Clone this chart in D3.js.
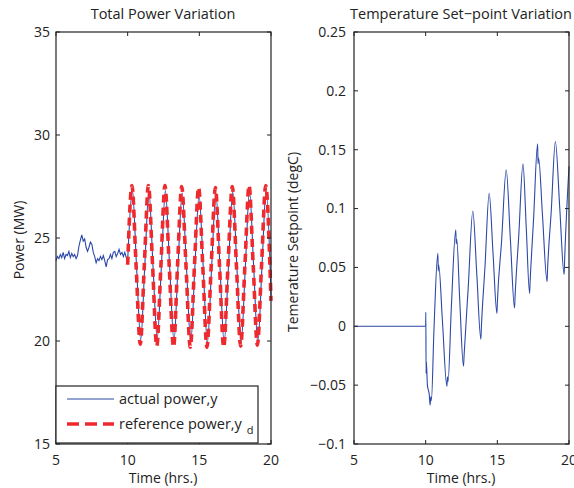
<!DOCTYPE html>
<meta charset="utf-8">
<style>
    body { margin: 0; background: #fff; }
    svg text { font-family: "Open Sans", Arial, sans-serif; fill: #222; }
    .frame { fill: none; stroke: #222; stroke-width: 1.2px; }
    .tick-mark { stroke: #222; stroke-width: 1px; }
</style>
<body>
<svg id="chart" width="574" height="488"></svg>
<script src="https://cdnjs.cloudflare.com/ajax/libs/d3/7.8.5/d3.min.js"></script>
<script>
// --- data ---
// actual power before the test signal starts (hrs, MW)
var preTime = [5.0, 5.1, 5.2, 5.3, 5.4, 5.5, 5.6, 5.7, 5.8, 5.9, 6.0, 6.1, 6.2, 6.3, 6.4, 6.5, 6.6, 6.7, 6.8, 6.9,
    7.0, 7.1, 7.2, 7.3, 7.4, 7.5, 7.6, 7.7, 7.8, 7.9, 8.0, 8.1, 8.2, 8.3, 8.4, 8.5, 8.6, 8.7, 8.8, 8.9,
    9.0, 9.1, 9.2, 9.3, 9.4, 9.5, 9.6, 9.7, 9.8, 9.9];
var prePower = [23.9, 24.1, 24.0, 24.2, 24.05, 24.3, 24.0, 24.2, 24.15, 24.35, 24.05, 24.25, 24.1, 24.2, 24.0, 24.15, 24.6, 24.9, 25.15, 24.85,
    24.95, 24.55, 24.35, 24.55, 24.8, 24.7, 24.3, 24.1, 23.8, 24.0, 23.9, 24.1, 23.95, 24.15, 23.9, 23.6, 23.95, 24.0, 24.2, 24.0,
    24.3, 24.35, 24.1, 24.25, 24.45, 24.2, 24.3, 24.1, 24.3, 24.05];

// reference power: peaks, troughs and mid crossings
var refTime = [10.0, 10.3, 10.59, 10.88, 11.16, 11.45, 11.74, 12.03, 12.32, 12.6, 12.9, 13.2, 13.48, 13.77, 14.07, 14.37, 14.66,
    14.95, 15.24, 15.53, 15.83, 16.12, 16.41, 16.7, 17.0, 17.3, 17.59, 17.88, 18.18, 18.47, 18.76, 19.05, 19.34, 19.63, 20.0];
var refPower = [23.7, 27.55, 23.65, 19.85, 23.65, 27.55, 23.65, 19.75, 23.65, 27.55, 23.65, 19.7, 23.65, 27.5, 23.65, 19.7, 23.65,
    27.45, 23.65, 19.7, 23.65, 27.45, 23.65, 19.7, 23.65, 27.5, 23.65, 19.75, 23.65, 27.55, 23.65, 19.8, 23.65, 27.55, 21.95];

// actual power after 10 hrs
var actTime = [10.0, 10.33, 10.62, 10.91, 11.19, 11.48, 11.77, 12.06, 12.35, 12.63, 12.93, 13.23, 13.51, 13.8, 14.1, 14.4, 14.69,
    14.98, 15.27, 15.56, 15.86, 16.15, 16.44, 16.73, 17.03, 17.33, 17.62, 17.91, 18.21, 18.5, 18.79, 19.08, 19.37, 19.66, 20.0];
var actPower = [23.9, 27.35, 23.6, 20.05, 23.6, 27.3, 23.6, 20.1, 23.6, 27.3, 23.6, 20.0, 23.6, 27.2, 23.6, 19.95, 23.6,
    27.1, 23.6, 19.9, 23.6, 27.2, 23.6, 19.9, 23.6, 27.25, 23.6, 19.85, 23.6, 27.3, 23.6, 19.9, 23.6, 27.35, 22.2];

// temperature set-point (hrs, degC): flat part, then the oscillation
var tempFlatTime = [5, 10];
var tempFlatSet = [0, 0];
var tempTime = [10, 10.01, 10.03, 10.05, 10.12, 10.25, 10.31, 10.36, 10.4, 10.58, 10.85, 10.88, 10.91, 11.165, 11.48, 11.52, 11.56,
    11.79, 12.1, 12.13, 12.17, 12.37, 12.64, 12.68, 12.965, 13.29, 13.57, 13.85, 13.89, 14.14, 14.43, 14.7, 14.97, 15.0,
    15.295, 15.62, 15.91, 16.2, 16.24, 16.495, 16.79, 17.02, 17.25, 17.28, 17.53, 17.81, 17.84, 17.88, 18.14, 18.47, 18.5,
    18.76, 19.05, 19.355, 19.66, 19.7, 20.0];
var tempSet = [0, 0.012, -0.04, -0.03, -0.05, -0.058, -0.067, -0.06, -0.063, -0.0025, 0.062, 0.047, 0.052, 0.0055, -0.051, -0.043, -0.047,
    0.0155, 0.082, 0.07, 0.074, 0.024, -0.034, -0.025, 0.032, 0.098, 0.0435, -0.011, 0.0, 0.051, 0.113, 0.062, 0.011, 0.02,
    0.072, 0.133, 0.074, 0.0155, 0.026, 0.077, 0.138, 0.083, 0.028, 0.036, 0.0915, 0.155, 0.138, 0.143, 0.0965, 0.038, 0.047,
    0.0975, 0.157, 0.1005, 0.044, 0.058, 0.136];

var timeTicks = [5, 10, 15, 20];
var powerTicks = [15, 20, 25, 30, 35];
var tempTicks = [-0.1, -0.05, 0, 0.05, 0.1, 0.15, 0.2, 0.25];
var tempTickLabels = ["\u22120.1", "\u22120.05", "0", "0.05", "0.1", "0.15", "0.2", "0.25"];

var blue = "#2c48a8", red = "#ee2a2f";

var svg = d3.select("#chart");
var top_ = 32, bottom = 444;

function zip(a, b) { return a.map(function (v, i) { return [v, b[i]]; }); }

function drawFrame(g, x, y, yTicks, yLabels, labelGap) {
    var x0 = x.range()[0], x1 = x.range()[1];
    var y0 = y.range()[1], y1 = y.range()[0];
    // ticks inward on all four sides, matlab style
    timeTicks.forEach(function (t) {
        g.append("line").attr("class", "tick-mark")
            .attr("x1", x(t)).attr("x2", x(t)).attr("y1", y1).attr("y2", y1 - 4);
        g.append("line").attr("class", "tick-mark")
            .attr("x1", x(t)).attr("x2", x(t)).attr("y1", y0).attr("y2", y0 + 4);
        g.append("text").attr("x", x(t)).attr("y", y1 + 21)
            .attr("text-anchor", "middle").style("font-size", "14px").text(t);
    });
    yTicks.forEach(function (t, i) {
        g.append("line").attr("class", "tick-mark")
            .attr("x1", x0).attr("x2", x0 + 4).attr("y1", y(t)).attr("y2", y(t));
        g.append("line").attr("class", "tick-mark")
            .attr("x1", x1).attr("x2", x1 - 4).attr("y1", y(t)).attr("y2", y(t));
        g.append("text").attr("x", x0 - labelGap).attr("y", y(t)).attr("dy", "0.35em")
            .attr("text-anchor", "end").style("font-size", "14px").text(yLabels[i]);
    });
    g.append("rect").attr("class", "frame")
        .attr("x", x0).attr("y", y0).attr("width", x1 - x0).attr("height", y1 - y0);
}

// ---------- left: total power ----------
var xL = d3.scaleLinear().domain([5, 20]).range([56, 271]);
var yL = d3.scaleLinear().domain([15, 35]).range([bottom, top_]);
var gL = svg.append("g");

var linear = d3.line().x(function (d) { return xL(d[0]); }).y(function (d) { return yL(d[1]); });
var smooth = d3.line().curve(d3.curveMonotoneX).x(function (d) { return xL(d[0]); }).y(function (d) { return yL(d[1]); });

gL.append("path").attr("d", linear(zip(preTime, prePower).concat([[actTime[0], actPower[0]]])))
    .attr("fill", "none").attr("stroke", blue).attr("stroke-width", 1.1);
gL.append("path").attr("d", smooth(zip(actTime, actPower)))
    .attr("fill", "none").attr("stroke", blue).attr("stroke-width", 1.1);
gL.append("path").attr("d", smooth(zip(refTime, refPower)))
    .attr("fill", "none").attr("stroke", red).attr("stroke-width", 3.6)
    .attr("stroke-dasharray", "8,5");

drawFrame(gL, xL, yL, powerTicks, powerTicks, 6);

gL.append("text").attr("x", 163).attr("y", 19).attr("text-anchor", "middle")
    .style("font-size", "14.5px").text("Total Power Variation");
gL.append("text").attr("x", 163).attr("y", 483).attr("text-anchor", "middle")
    .style("font-size", "14px").text("Time (hrs.)");
gL.append("text").attr("transform", "translate(24,240) rotate(-90)").attr("text-anchor", "middle")
    .style("font-size", "14px").text("Power (MW)");

// legend
var leg = gL.append("g");
leg.append("rect").attr("x", 56).attr("y", 386).attr("width", 202).attr("height", 57)
    .attr("fill", "#fff").attr("stroke", "#222").attr("stroke-width", 1.2);
leg.append("line").attr("x1", 67).attr("x2", 114).attr("y1", 399).attr("y2", 399)
    .attr("stroke", blue).attr("stroke-width", 1.1);
leg.append("text").attr("x", 119).attr("y", 404).style("font-size", "14.5px").text("actual power,y");
leg.append("line").attr("x1", 67).attr("x2", 114).attr("y1", 424).attr("y2", 424)
    .attr("stroke", red).attr("stroke-width", 3.6).attr("stroke-dasharray", "12,6");
var rt = leg.append("text").attr("x", 119).attr("y", 429).style("font-size", "14.5px");
rt.append("tspan").text("reference power,y");
rt.append("tspan").attr("dx", 5).attr("dy", 5).style("font-size", "11px").text("d");

// ---------- right: temperature set-point ----------
var xR = d3.scaleLinear().domain([5, 20]).range([354, 569]);
var yR = d3.scaleLinear().domain([-0.1, 0.25]).range([bottom, top_]);
var gR = svg.append("g");

var flatLine = d3.line().x(function (d) { return xR(d[0]); }).y(function (d) { return yR(d[1]); });
var tempLine = d3.line().curve(d3.curveMonotoneX)
    .x(function (d) { return xR(d[0]); }).y(function (d) { return yR(d[1]); });
gR.append("path").attr("d", flatLine(zip(tempFlatTime, tempFlatSet)))
    .attr("fill", "none").attr("stroke", blue).attr("stroke-width", 1.1);
gR.append("path").attr("d", tempLine(zip(tempTime, tempSet)))
    .attr("fill", "none").attr("stroke", blue).attr("stroke-width", 1.1);

drawFrame(gR, xR, yR, tempTicks, tempTickLabels, 8);

gR.append("text").attr("x", 461).attr("y", 19).attr("text-anchor", "middle")
    .style("font-size", "14.5px").text("Temperature Set\u2212point Variation");
gR.append("text").attr("x", 461).attr("y", 483).attr("text-anchor", "middle")
    .style("font-size", "14px").text("Time (hrs.)");
gR.append("text").attr("transform", "translate(298,242) rotate(-90)").attr("text-anchor", "middle")
    .style("font-size", "14px").text("Temerature Setpoint (degC)");
</script>
</body>
